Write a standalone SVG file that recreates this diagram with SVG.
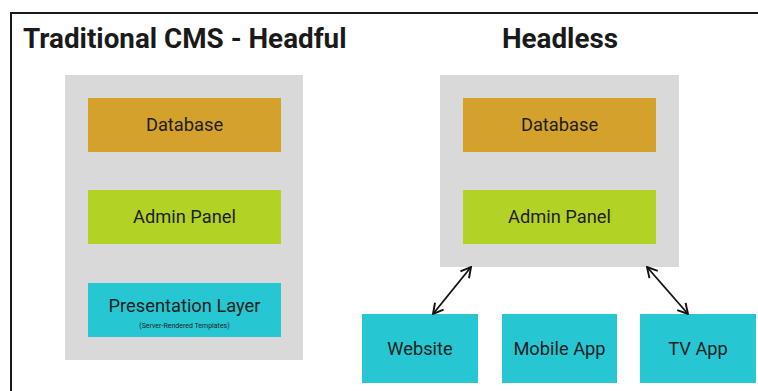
<svg xmlns="http://www.w3.org/2000/svg" width="758" height="391" viewBox="0 0 758 391">
  <style>
    .frame { fill: none; stroke: #1a1a1a; stroke-width: 2; }
    .panel { fill: #d9d9d9; }
    .db { fill: #d4a12a; }
    .admin { fill: #b2d325; }
    .client { fill: #26c7d3; }
    .title { font-family: Roboto, "Liberation Sans", sans-serif; font-weight: bold; font-size: 27.8px; fill: #1a1a1a; }
    .label { font-family: Roboto, "Liberation Sans", sans-serif; font-size: 18.3px; fill: #1e1e1e; text-anchor: middle; }
    .small { font-family: Roboto, "Liberation Sans", sans-serif; font-size: 7px; fill: #222; text-anchor: middle; }
    .conn { stroke: #111; stroke-width: 1.8; fill: none; }
  </style>
  <defs>
    <marker id="chev" viewBox="0 0 14 14" refX="13" refY="7" markerWidth="14" markerHeight="14" markerUnits="userSpaceOnUse" orient="auto-start-reverse">
      <path d="M3,1.5 L13,7 L3,12.5" fill="none" stroke="#111" stroke-width="1.9"/>
    </marker>
  </defs>

  <rect width="758" height="391" fill="#ffffff"/>
  <rect class="frame" x="11" y="13" width="770" height="400"/>

  <text class="title" x="23" y="48">Traditional CMS - Headful</text>
  <text class="title" x="560" y="48" text-anchor="middle">Headless</text>

  <!-- traditional stack -->
  <g id="traditional">
    <rect class="panel" x="65" y="75" width="238" height="285"/>
  </g>
  <g id="trad-database">
    <rect class="db" x="88" y="98" width="193" height="54"/>
    <text class="label" x="184.5" y="131">Database</text>
  </g>
  <g id="trad-admin">
    <rect class="admin" x="88" y="190" width="193" height="54"/>
    <text class="label" x="184.5" y="223">Admin Panel</text>
  </g>
  <g id="trad-presentation">
    <rect class="client" x="88" y="283" width="193" height="54"/>
    <text class="label" x="184.5" y="312">Presentation Layer</text>
    <text class="small" x="184.5" y="328">(Server-Rendered Templates)</text>
  </g>

  <!-- headless stack -->
  <g id="headless">
    <rect class="panel" x="440" y="75" width="239" height="192"/>
  </g>
  <g id="headless-database">
    <rect class="db" x="463" y="98" width="193" height="54"/>
    <text class="label" x="559.5" y="131">Database</text>
  </g>
  <g id="headless-admin">
    <rect class="admin" x="463" y="190" width="193" height="54"/>
    <text class="label" x="559.5" y="223">Admin Panel</text>
  </g>

  <g id="website">
    <rect class="client" x="362" y="314" width="116" height="69"/>
    <text class="label" x="420" y="355">Website</text>
  </g>
  <g id="mobile-app">
    <rect class="client" x="502" y="314" width="115" height="69"/>
    <text class="label" x="559.5" y="355">Mobile App</text>
  </g>
  <g id="tv-app">
    <rect class="client" x="640" y="314" width="116" height="69"/>
    <text class="label" x="698" y="355">TV App</text>
  </g>

  <g id="connectors">
    <line class="conn" x1="471" y1="267" x2="433" y2="314" marker-start="url(#chev)" marker-end="url(#chev)"/>
    <line class="conn" x1="647" y1="267" x2="688" y2="314" marker-start="url(#chev)" marker-end="url(#chev)"/>
  </g>
</svg>
